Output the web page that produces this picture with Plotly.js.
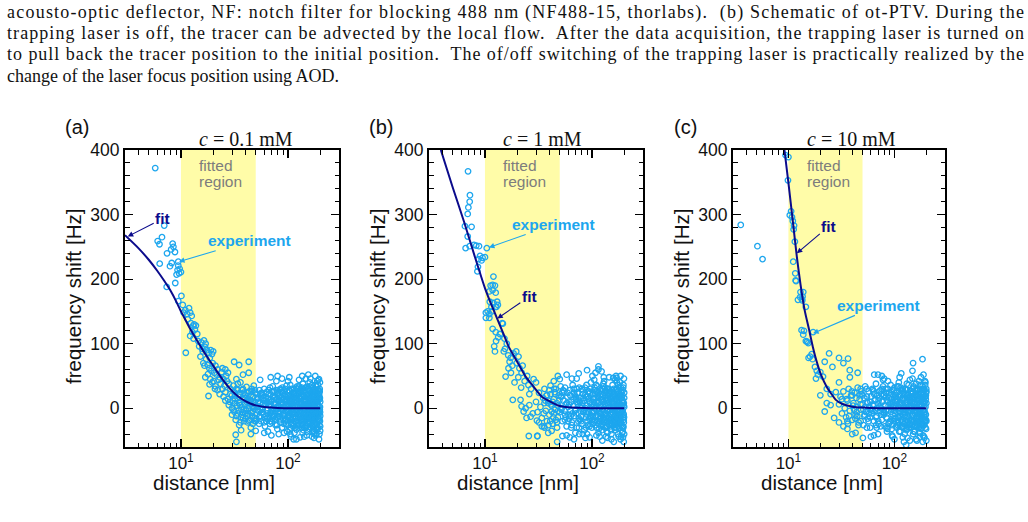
<!DOCTYPE html>
<html>
<head>
<meta charset="utf-8">
<script src="https://cdn.plot.ly/plotly-3.0.1.min.js"></script>
<style>
  html, body { margin: 0; padding: 0; background: #fff; }
  #chart { width: 1028px; height: 522px; }
</style>
</head>
<body>
<div id="chart"></div>
<script>
// ---- data -------------------------------------------------------------
// Tracer frequency shift [Hz] versus distance to the wall [nm], three salt concentrations.
const panelTitles = ['<i>c</i> = 0.1 mM', '<i>c</i> = 1 mM', '<i>c</i> = 10 mM'];
const panelLetters = ['(a)', '(b)', '(c)'];
const distRange = [3, 300];
const shiftRange = [-60, 400];
const fitWindow = [10, 50];
const distTickVals = [10, 100];
const distTickText = ['10<sup>1</sup>', '10<sup>2</sup>'];
const shiftTickVals = [0, 100, 200, 300, 400];

const captionLines = [
  'acousto-optic deflector, NF: notch filter for blocking 488 nm (NF488-15, thorlabs).  (b) Schematic of ot-PTV. During the',
  'trapping laser is off, the tracer can be advected by the local flow.  After the data acquisition, the trapping laser is turned on',
  'to pull back the tracer position to the initial position.  The of/off switching of the trapping laser is practically realized by the',
  'change of the laser focus position using AOD.'
];

// fitted curves (distance, shift)
const fitA_dist  = [3, 4, 5, 6, 7, 8, 9, 10, 11, 12, 14, 16, 18, 20, 23, 26, 30, 35, 40, 45, 50, 60, 70, 80, 100, 130, 160, 200];
const fitA_shift = [268, 248, 230, 213, 197, 182, 166, 150, 137, 125, 106, 90, 77, 66, 51, 39, 27, 17, 11, 7, 4.5, 2, 1, 0.5, 0, 0, 0, 0];
const fitB_dist  = [3.87, 5, 6.4, 8, 10, 11.5, 13, 15, 16.7, 20, 24, 28, 34, 40, 49, 65, 100, 200];
const fitB_shift = [400, 342, 288, 236, 186, 160, 139, 114, 95, 72, 49, 35, 18, 11, 4, 1, 0, 0];
const fitC_dist  = [9.17, 10, 11, 12, 13, 14.3, 15.5, 17, 18.5, 20.5, 23, 25, 28, 32, 40, 50, 70, 200];
const fitC_shift = [400, 349, 290, 235, 192, 150, 125, 95, 72, 50, 33, 24, 13, 7, 2.5, 1, 0, 0];

// measured points [distance nm, shift Hz]
const expA = [
  [5.75,372],[6.98,283],[6.65,265],[6.06,259],[6.3,254],[8.37,255],[8.5,250],[8.1,246],[7.41,240],[8.79,242],
  [6.33,224],[8.2,225],[7.9,220],[9.44,227],[9.44,221],[9.73,216],[9.3,214],[10,211],[9.1,207],[9.6,209],
  [8.85,194],[7.36,188],[10.1,174],[9.44,166],
  [10.4,160],[10.6,148],[11,152],[11.4,146],[11.9,155],[12.2,148],[12.6,143],[11.1,86],[11.6,138],[12.4,132],
  [13,128],[13.3,130],[13.8,128],[12.8,118],[13.5,122],[14.2,115],[14.5,104],[13.1,108],[12.2,112],[15.5,102],
  [16.4,105],[17,100],[16.8,95],[15.8,92],[17.5,90],[16,88],[14.8,96],[18.2,86],[19,90],[19.5,84],[20,88],
  [18.6,78],[17.2,76],[15.2,80],[16.2,70],[17.8,67],[19.8,70],[16.6,66],[18.4,62],[21,66],[22,60],[20.5,55],
  [19.2,58],[17.9,53],[16.9,48],[18.8,45],[21.6,52],[23,48],[24,56],[22.5,44],[19.6,40],[18.5,37],[21,34],
  [20.2,42],[23.5,38],[25,45],[26,60],[24.4,62],[26.5,50],[27.5,55],[25.5,35],[22,28],[18.1,19],[23,22],
  [24.5,30],[26,25],[27,42],[28,38],[29,30],[20.8,30],[25,18],[27.5,14],[28.5,10],[26,12],[30,20],[31.4,72],
  [35,67],[43,72],[43,55],[38,52],[33,45],[36,40],[31,35],[34,28],[29,22],[32,15],[35,8],[31.4,-5],[28,5],
  [30,0],[33,-12],[35,-26],[36.5,-34],[32.5,-41],[33,-52],[38,-15],[40,-8],[42,-22],[45,-30],[50,-35],
  [30.5,12],[31,-2],[31.5,25],[32,8],[32.5,-18],[33,30],[33.5,4],[34,-8],[34.5,18],[35,-3],[35.5,22],[36,10],
  [36.5,-14],[37,2],[37.5,28],[38,-6],[38.5,14],[39,-20],[39.5,6],[40,20],[40.5,-2],[41,33],[41.5,9],[42,-12],
  [42.5,15],[43,0],[43.5,26],[44,-18],[44.5,7],[45,12],[45.5,-7],[46,30],[46.5,3],[47,-24],[47.5,18],[48,-1],
  [48.5,10],[49,-15],[49.5,24],[50,5],[51,-10],[52,16],[53,-4],[54,28],[55,8],[56,-20],[57,1],[58,20],[59,-9],
  [60,12],[61,-28],[62,6],[63,25],[64,-3],[65,15],[66,-14],[67,4],[68,32],[69,-6],[70,10],[71,-22],[72,18],
  [73,0],[74,-12],[75,27],[76,7],[77,-4],[78,14],[79,-26],[80,3],[81,22],[82,-8],[83,11],[84,-17],[85,30],
  [86,-1],[87,16],[88,-30],[89,6],[90,24],[91,-10],[92,2],[93,19],[94,-20],[95,9],[96,-5],[97,35],[98,13],
  [99,-14],[100,4],[102,28],[104,-7],[106,17],[108,-24],[110,8],[112,-2],[114,22],[116,-16],[118,12],[120,-33],
  [122,5],[124,30],[126,-9],[128,15],[130,-3],[132,25],[134,-19],[136,7],[138,38],[140,-11],[142,18],[144,0],
  [146,-28],[148,10],[150,33],[152,-6],[154,21],[156,-15],[158,4],[160,27],[162,-22],[164,13],[166,-2],[168,36],
  [170,8],[172,-12],[174,19],[176,-36],[178,3],[180,26],[182,-8],[184,15],[186,-25],[188,42],[190,6],[192,-16],
  [194,22],[196,-4],[198,30],[199,-20],[200,10],
  [30,-10],[32,20],[34,38],[36,-22],[38,30],[40,-16],[42,24],[44,10],[46,-6],[48,35],[50,-20],[52,2],[54,-14],
  [56,18],[58,-2],[60,30],[62,-12],[64,8],[66,22],[68,-20],[70,-4],[72,34],[74,6],[76,-18],[78,0],[80,24],
  [82,12],[84,-6],[86,28],[88,8],[90,-16],[92,14],[94,30],[96,-24],[98,-2],[101,18],[103,-12],[105,36],[107,6],
  [109,-18],[111,24],[113,-6],[115,10],[117,-30],[119,20],[121,-4],[123,14],[125,-22],[127,34],[129,2],[131,-14],
  [133,10],[135,-30],[137,22],[139,-2],[141,28],[143,-20],[145,12],[147,-8],[149,20],[151,-36],[153,6],[155,30],
  [157,-12],[159,16],[161,-4],[163,24],[165,-18],[167,2],[169,-28],[171,32],[173,-6],[175,12],[177,20],[179,-14],
  [181,36],[183,0],[185,-20],[187,10],[189,-32],[191,28],[193,-10],[195,16],[197,-26],[199,40],[200,-12],
  [60,-38],[70,-42],[82,-40],[98,-36],[107,-44],[115,-38],[130,-45],[150,-42],[175,-46],[185,-40],[195,-48],
  [69,48],[80,50],[100,42],[147,46],[155,52],[180,50],[195,45],[200,-35],[103,48],[120,-48],
  [100,-20],[104,12],[108,30],[112,-28],[116,4],[120,16],[124,-10],[128,-26],[132,6],[136,-16],[140,26],[144,14],
  [148,-18],[152,30],[156,8],[160,-10],[164,-30],[168,18],[172,26],[176,-2],[180,-22],[184,34],[188,-8],[192,4],
  [196,24],[200,-28],[110,-10],[125,24],[140,-34],[160,40],[175,-30],[190,-2],[198,14],[170,-20],[155,-24],
  [135,32],[118,-20],[165,10],[185,24],[145,-2],
  [35.8,5],[37.2,-10],[38.6,24],[40.3,-4],[41.7,12],[43.2,-20],[44.8,20],[46.3,-12],[47.7,2],[49.2,28],[50.6,-16],
  [52.3,10],[53.8,-24],[55.5,22],[57.2,-6],[58.8,6],[60.5,-14],[62.3,18],[64.1,-8],[65.9,28],[67.8,-24],[69.6,14],
  [71.5,-2],[73.4,26],[75.5,-16],[77.5,8],[79.6,-32],[81.8,18],[83.9,-12],[86.2,6],[88.5,32],[90.8,-8],[93.2,20],
  [95.6,-18],[98.1,26],[100.7,-10],[103.3,6],[106,-30],[108.8,20],[111.6,-6],[114.5,30],[117.4,-12],[120.5,8],
  [123.6,-26],[126.8,22],[130.1,-8],[133.5,14],[137,-38],[140.5,4],[144.2,24],[147.9,-14],[151.7,18],[155.6,-20],
  [159.6,6],[163.7,-8],[168,22],[172.4,-16],[176.8,30],[181.4,-4],[186.1,12],[190.9,-30],[195.8,20],[199.5,-6],
  [36.8,-2],[39.4,16],[42.4,-8],[45.6,26],[48.9,-20],[51.5,14],[54.6,-12],[56.8,24],[59.6,-22],[61.7,16],[63.5,-16],
  [66.6,10],[68.7,-8],[70.6,26],[72.6,-14],[74.6,16],[76.5,-26],[78.7,28],[80.7,-6],[82.8,20],[85.1,-22],[87.3,10],
  [89.6,-2],[92,28],[94.4,-12],[96.8,14],[99.4,-26],[102,10],[104.7,26],[107.4,-18],[110.2,2],[113,-24],[116,16],
  [118.9,-4],[121.9,34],[125.1,-14],[128.4,0],[131.8,18],[135.2,-22],[138.7,12],[142.4,-14],[146,32],[149.8,-26],
  [153.7,2],[157.6,28],[161.6,-16],[165.8,4],[170.2,-36],[174.6,14],[179.1,-10],[183.7,28],[188.4,-18],[193.3,2],
  [197.8,26],
  [45,-40],[55,44],[65,-36],[78,42],[92,-38],[105,-40],[127,44],[142,-44],[162,46],[182,-42],[192,44],[88,46],
  [113,-48],[168,-44],[136,50],[197,-40],
  [102.5,-2],[107.2,12],[111.9,-16],[116.7,22],[121.2,-6],[126,8],[130.8,-18],[135.8,26],[140.9,-10],[145.9,6],
  [151,-12],[156.2,22],[161.4,-2],[166.8,-26],[172,10],[177.4,18],[182.8,-14],[188.1,6],[193.6,-20],[198.7,16],
  [104,-34],[119,32],[143,-30],[158,34],[176,-40],[191,36],
  [42.9,4],[46.9,-4],[51,22],[55.2,-2],[59.1,16],[63.2,-20],[67.2,6],[71,-10],[75,18],[79.2,-14],[83.4,2],[87.7,24],
  [91.5,-24],[95.2,4],[99.9,20],[104.3,-14],[108.3,-2],[112.5,16],[117,-8],[121.6,20],[125.7,-30],[129.4,26],
  [134.1,-6],[138.2,-26],[142.8,10],[147.3,-30],[152.4,-4],[157,12],[162.3,18],[167.4,-14],[171.3,-4],[175.8,4],
  [180.2,12],[184.8,-30],[189.6,20],[194.4,-8],[199.2,2],[101.6,14],[109.7,28],[114.9,-20],[120,-26],[124.4,4],
  [133.1,30],[139.6,-18],[150.2,-2],[159,-32],[164.9,20],[169.1,8],[178.2,-18],[186.9,-10],[191.6,12],[196.4,-16],
  [104.9,0],[130.5,10],[144.8,-8],[155,-12],[173,-24],[183,8],[193.8,28],[198.4,-2]
];

const expB = [
  [6.95,367],[7.24,330],[7.2,320],[7,311],[6.9,301],[6.5,282],[7.5,281],[6.9,266],[6.6,248],[7.2,251],[7.9,253],
  [8.3,252],[8.8,251],[10.4,248],[9,236],[9.5,233],[10,234],[8.7,231],[9.3,229],[8.6,219],[8.5,212],[12,204],
  [11.3,190],[12.4,190],[11.8,191],[11,181],[12.6,179],[11.8,183],[13,165],[13.2,160],[12.8,157],[10.6,150],
  [10.2,148],[11,146],[11.6,150],[10.2,140],[11,140],[11.5,157],[12.6,157],[11.1,165],[12,163],[14.7,131],
  [11.8,123],[12.6,118],[13.8,115],[12.4,88],[12.2,96],[12.7,104],[13.3,110],[14.5,132],[15.2,108],[16,100],
  [15.4,92],[15,88],[16.5,82],[17.4,78],[18.5,85],[19.6,88],[20.6,80],[17,72],[18,66],[19.8,70],[21,62],[22,55],
  [20.5,48],[22.5,66],[15.6,49],[18.9,40],[17.5,55],[16.6,62],[21.8,32],[23.5,42],[24.8,50],[25.5,36],[27,30],
  [28.5,45],[30,40],[26,22],[18.2,13],[21.5,13],[22,3],[24,0],[26,5],[23,-5],[24.5,-15],[26.7,-13],[28,-8],
  [30.6,-19],[34,-28],[35.5,-28],[30.8,-43],[25.7,-43],[31,-43],[36,-30],[39,-38],[42,-35],[38,20],[41,35],
  [44,42],[48,50],[45,25],[39,8],[42,-5],[46,-18],[47.3,-52],[50,45],[53,-43],[58,52],[62,-45],[65,46],[68,-48],
  [75.2,54],[90,59],[108,55],[115,65],[115,60],[123,57],[158,47],[170,47],[70,-38],[82,-40],[95,-45],[110,-42],
  [125,-50],[140,-38],[160,-52],[175,-40],[185,-48],[195,-45],
  [30,10],[31,-6],[32,24],[33,2],[34,-15],[35,16],[36,30],[37,-4],[38,-20],[39,12],[40,-10],[41,22],[42,4],
  [43,-24],[44,14],[45,-2],[46,30],[47,8],[48,-14],[49,20],[50,-6],[51,34],[52,0],[53,-20],[54,12],[55,26],
  [56,-10],[57,6],[58,-28],[59,18],[60,2],[61,-16],[62,28],[63,-4],[64,10],[65,-22],[66,36],[67,4],[68,-12],
  [69,20],[70,-2],[71,14],[72,-30],[73,24],[74,6],[75,-8],[76,32],[77,-18],[78,2],[79,16],[80,-24],[81,8],
  [82,28],[83,-6],[84,12],[85,-34],[86,20],[87,0],[88,-14],[89,36],[90,4],[91,-20],[92,14],[93,-6],[94,26],
  [95,-28],[96,8],[97,-12],[98,40],[99,2],[100,-18],[102,22],[104,-4],[106,32],[108,-26],[110,10],[112,-10],
  [114,18],[116,-32],[118,4],[120,28],[122,-14],[124,12],[126,-2],[128,38],[130,-22],[132,6],[134,20],[136,-8],
  [138,-36],[140,16],[142,30],[144,-16],[146,2],[148,26],[150,-28],[152,10],[154,-6],[156,36],[158,-20],[160,8],
  [162,22],[164,-12],[166,-34],[168,14],[170,4],[172,30],[174,-22],[176,-2],[178,18],[180,-30],[182,40],[184,6],
  [186,-14],[188,26],[190,-6],[192,-38],[194,12],[196,32],[198,-18],[200,2],
  [32,-22],[36,8],[40,28],[44,-8],[48,4],[52,18],[56,32],[60,-20],[64,-30],[68,24],[72,10],[76,-16],[80,30],
  [84,-2],[88,18],[92,-26],[96,24],[100,6],[104,-22],[108,16],[112,34],[116,-4],[120,-20],[124,26],[128,-10],
  [132,-30],[136,12],[140,-4],[144,24],[148,-10],[152,-40],[156,4],[160,30],[164,-2],[168,-22],[172,12],[176,36],
  [180,-12],[184,20],[188,-26],[192,8],[196,-8],[200,24],[105,44],[130,42],[145,48],[165,44],[185,50],[200,-40],
  [115,-38],[135,-44],[178,-44],[198,-52],[90,-40],
  [102,-8],[110,26],[118,-16],[126,20],[134,-18],[142,8],[150,14],[158,-8],[166,28],[174,2],[182,-18],[190,16],
  [198,4],[106,0],[122,-28],[138,30],[154,-24],[170,-10],[186,32],[196,-30],[114,8],[146,-22],[162,-24],[178,2],
  [194,-14],[200,16],[128,10],[176,-28],
  [35.4,-8],[37.6,20],[39.2,-26],[41.4,6],[43.6,-14],[45.3,22],[47.2,-30],[49.6,12],[51.8,-2],[53.7,28],[55.9,-18],
  [58.1,8],[60.4,-10],[62.6,20],[64.9,-26],[67.3,14],[69.7,-4],[72.1,30],[74.7,-20],[77.2,10],[79.8,-12],[82.5,22],
  [85.3,-2],[88.1,-30],[91,18],[93.9,-16],[96.9,30],[100,-6],[103.1,14],[106.4,-20],[109.6,36],[113,-14],[116.5,0],
  [120,22],[123.7,-34],[127.4,10],[131.2,-8],[135.1,26],[139,-20],[143.1,14],[147.2,-2],[151.4,-34],[155.7,22],
  [160.1,2],[164.6,-18],[169.2,30],[173.9,-10],[178.7,12],[183.5,-24],[188.5,24],[193.5,-4],[198.5,-22],
  [36.6,12],[40.8,-20],[44.3,30],[48.3,-4],[52.6,24],[57,-14],[61.2,6],[65.7,-8],[70.1,18],[75.6,-30],[80.5,4],
  [86,32],[90.2,-10],[95.1,10],[101.2,-24],[105.3,28],[111,-2],[115,-24],[121.5,14],[126.2,-18],[132.8,32],
  [137.5,-12],[141.6,4],[147.9,22],[153,-16],[158.6,18],[163.2,-6],[168.8,-26],[174.5,26],[180.8,6],[186.2,-8],
  [191.7,-28],[196.8,36],
  [58,-42],[72,46],[87,-46],[101,50],[118,-44],[129,48],[152,-48],[168,50],[187,-44],[199,46],[76,-40],[140,-46],
  [103.8,4],[108.6,-12],[113.5,20],[118.3,-8],[123.2,2],[128.1,-28],[133,16],[138,-4],[143.9,30],[149.1,-8],
  [154.5,8],[159.8,-22],[165.3,14],[170.8,-2],[176.4,22],[182,-14],[187.7,2],[193,20],[198,-10],[110,-30],
  [127,34],[149,-32],[171,40],[194,-36],
  [43,10],[47,-22],[51.2,18],[55.4,-4],[59.2,24],[63.3,-12],[67.5,30],[71.2,-8],[75.2,12],[79.3,-20],[83.5,16],
  [87.8,-6],[91.6,26],[95.4,-14],[99.8,-30],[104.4,10],[108.2,22],[112.6,-20],[117.2,10],[121.8,-8],[125.6,30],
  [129.5,-16],[134.2,4],[138.3,-28],[142.9,20],[147.4,-18],[152.5,24],[157.1,-2],[162.4,-30],[167.5,20],[171.4,-14],
  [175.9,8],[180.3,-24],[184.9,16],[189.7,-2],[194.5,28],[199.3,-14],[101.7,-12],[109.8,4],[115,24],[120.1,2],
  [124.5,-24],[133.2,-10],[139.7,20],[150.3,-20],[159.1,12],[165,-10],[169.2,-30],[178.3,32],[187,-22],[191.7,4],
  [196.5,-28],[105,16],[130.6,24],[144.9,-24],[155.1,14],[173.1,18],[183.1,-4],[193.9,10],[198.5,8]
];

const expC = [
  [3.55,284],[5.1,251],[5.7,231],[9.4,392],[10,389],[9.9,353],[10.3,299],[10.6,305],[10.8,296],[11,290],
  [11.3,283],[11.2,277],[11.5,258],[11.1,227],[11.6,209],[11.7,198],[11.8,197],[13,180],[13.8,180],[13.6,173],
  [12.9,172],[13.5,167],[14.6,157],[12.3,168],[13.4,169],[13.3,121],[14,120],[13.8,114],[14.6,104],[15.4,101],
  [15,103],[17.1,118],[16,80],[16.9,76],[15.5,78],[17.8,64],[18.5,58],[19,52],[20,56],[21.2,49],[18.2,46],
  [16.6,84],[24.2,85],[22,72],[26,64],[30,78],[33,70],[36.5,77],[37.9,59],[30,40],[23,30],[25,22],[28,25],
  [20,20],[23,8],[25,5],[22,-5],[27,-15],[30,-22],[33,-28],[36,-32],[40,-40],[43,-38],[50.4,-46],[38,48],
  [45,55],[64.5,52],[70,52],[76,50],[80,46],[116,54],[148,58],[150,70],[184,76],[129,-57],[120,-45],[140,-50],
  [160,-48],[175,-38],[185,-52],[70,-40],[85,-36],[95,-42],[100,-48],[60,-44],[55,-30],[48,-20],
  [30,6],[31,18],[32,-8],[33,26],[34,0],[35,-14],[36,12],[37,30],[38,-4],[39,20],[40,-18],[41,8],[42,24],
  [43,-10],[44,2],[45,32],[46,-22],[47,14],[48,-2],[49,22],[50,6],[51,-26],[52,16],[53,34],[54,-6],[55,10],
  [56,-16],[57,26],[58,2],[59,-30],[60,18],[61,-8],[62,30],[63,4],[64,-20],[65,12],[66,-2],[67,38],[68,-12],
  [69,20],[70,6],[71,-24],[72,16],[73,-4],[74,28],[75,0],[76,-18],[77,10],[78,34],[79,-10],[80,20],[81,-28],
  [82,4],[83,24],[84,-14],[85,12],[86,-32],[87,30],[88,-2],[89,16],[90,-22],[91,8],[92,36],[93,-6],[94,14],
  [95,-26],[96,22],[97,2],[98,-16],[99,28],[100,-4],[102,12],[104,-28],[106,34],[108,0],[110,-14],[112,22],
  [114,-36],[116,8],[118,26],[120,-10],[122,14],[124,-24],[126,30],[128,-2],[130,18],[132,-32],[134,6],[136,36],
  [138,-16],[140,10],[142,-4],[144,26],[146,-26],[148,14],[150,-10],[152,32],[154,2],[156,-36],[158,20],[160,-6],
  [162,12],[164,-20],[166,28],[168,-2],[170,-30],[172,16],[174,36],[176,-12],[178,4],[180,24],[182,-24],[184,10],
  [186,-42],[188,30],[190,-6],[192,18],[194,-20],[196,40],[198,-10],[200,8],
  [32,14],[36,-20],[40,20],[44,-6],[48,30],[52,-12],[56,8],[60,-2],[64,26],[68,-30],[72,2],[76,30],[80,-8],
  [84,18],[88,-24],[92,6],[96,-10],[100,32],[104,14],[108,-22],[112,-4],[116,-18],[120,30],[124,2],[128,-30],
  [132,20],[136,-6],[140,-24],[144,4],[148,30],[152,-20],[156,10],[160,38],[164,2],[168,-16],[172,-38],[176,22],
  [180,-16],[184,34],[188,-20],[192,0],[196,-30],[200,26],[110,40],[140,44],[170,42],[195,36],[125,-40],[150,-40],
  [190,-44],[200,-50],
  [102,-16],[114,20],[126,-10],[138,16],[150,24],[162,-12],[174,6],[186,-4],[198,20],[106,10],[118,-28],[130,4],
  [142,-30],[154,16],[166,-22],[178,-32],[190,28],[200,-20],[134,-20],[158,-28],[182,14],[194,10],[146,0],[170,20],
  [35.3,14],[37.4,-12],[39.6,26],[41.6,-2],[43.8,16],[45.8,-26],[47.9,6],[50.2,20],[52.5,-10],[54.7,30],[57.1,-20],
  [59.4,10],[61.7,-4],[64.3,22],[66.8,-14],[69.2,0],[71.8,26],[74.3,-28],[77,12],[79.6,-6],[82.4,30],[85.3,-16],
  [88.2,4],[91.2,20],[94.3,-32],[97.5,10],[100.8,-8],[104.1,24],[107.6,-14],[111.1,6],[114.8,32],[118.5,-22],
  [122.3,0],[126.2,16],[130.2,-34],[134.3,20],[138.5,-4],[142.8,12],[147.2,-18],[151.7,34],[156.3,-8],[161,20],
  [165.8,-24],[170.6,4],[175.6,28],[180.7,-12],[185.9,16],[191.1,-26],[196.3,2],[199.6,30],
  [36.4,-24],[40.7,4],[44.6,-12],[48.6,26],[53.2,2],[57.8,-8],[62.5,28],[66.2,14],[70.4,-20],[75.1,22],[79.1,-2],
  [84.6,-30],[89.3,24],[93.1,2],[98.6,-20],[103,20],[108.9,34],[113.6,-12],[119.2,14],[124.7,-6],[129.6,28],
  [135.6,-26],[141.2,18],[146.4,-10],[153.2,8],[159,-16],[164.4,30],[169.9,-8],[176.8,-24],[182.4,4],[187.8,22],
  [193.4,-14],[198.8,-32],
  [64,-42],[78,44],[96,-44],[112,48],[133,-46],[148,46],[163,-50],[178,48],[192,-46],[87,42],[123,-52],[188,52],
  [102.6,0],[107.4,-26],[112.2,10],[117.1,-6],[122,24],[127,-14],[132,8],[137.1,-30],[142.3,26],[147.6,-2],
  [152.9,14],[158.3,-20],[163.8,6],[169.4,-12],[175,18],[180.6,-30],[186.3,8],[192,-10],[197.5,14],[111,-36],
  [131,38],[152,-36],[173,-44],[194,42],
  [42.8,-16],[46.8,20],[50.9,-2],[55.1,18],[59,-14],[63.1,6],[67.1,-26],[70.9,12],[74.9,-10],[79,20],[83.2,-4],
  [87.6,10],[91.4,-20],[95.1,28],[99.7,4],[104.2,-20],[108.1,18],[112.4,-26],[116.9,28],[121.5,-2],[125.5,-20],
  [129.3,10],[134,22],[138.1,-10],[142.7,-20],[147.1,24],[152.3,-4],[156.9,28],[162.2,-26],[167.3,14],[171.2,-6],
  [175.7,-18],[180.1,12],[184.7,-28],[189.5,8],[194.3,-22],[199.1,24],[101.5,18],[109.6,-8],[114.8,4],[119.9,-30],
  [124.3,20],[133,-12],[139.5,4],[150.1,18],[158.9,-4],[164.8,-28],[169,24],[178.1,-8],[186.8,28],[191.5,-16],
  [196.2,18],[104.8,-30],[130.4,-22],[144.7,14],[154.9,-26],[172.9,-2],[182.9,30],[193.7,-6],[198.3,-18]
];

const expSets = [expA, expB, expC];
const fitDists = [fitA_dist, fitB_dist, fitC_dist];
const fitShifts = [fitA_shift, fitB_shift, fitC_shift];

// ---- layout geometry (pixels of the 1028 x 522 page) -------------------
const W = 1028, H = 522;
const boxes = [[125, 339], [429, 643], [733, 945]];
const boxTop = 150, boxBottom = 447;
const fx = p => p / W;
const fy = p => 1 - p / H;

const EXP_COLOR = '#1DA6EE';
const FIT_COLOR = '#0B0B8C';
const SANS = 'Liberation Sans, Arial, sans-serif';
const SERIF = 'Liberation Serif, Times New Roman, serif';

const traces = [];
const shapes = [];
const annotations = [];

captionLines.forEach((line, i) => {
  annotations.push({
    xref: 'paper', yref: 'paper', x: fx(5), y: fy(12.5 + 21 * i),
    xanchor: 'left', yanchor: 'middle', align: 'left', showarrow: false,
    text: line, font: { family: SERIF, size: 18, color: '#111' }
  });
});

const layout = {
  width: W, height: H, autosize: false,
  margin: { l: 0, r: 0, t: 0, b: 0, pad: 0 },
  paper_bgcolor: '#fff', plot_bgcolor: 'rgba(0,0,0,0)',
  showlegend: false, hovermode: false,
  shapes, annotations
};

boxes.forEach(([left, right], i) => {
  const s = i === 0 ? '' : String(i + 1);
  const xa = 'x' + s, ya = 'y' + s;

  layout['xaxis' + s] = {
    type: 'log', range: distRange.map(Math.log10),
    domain: [fx(left), fx(right)], anchor: ya,
    showline: true, linewidth: 2, linecolor: '#000', mirror: 'ticks',
    ticks: 'inside', ticklen: 8, tickwidth: 1.2, tickcolor: '#000',
    tickvals: distTickVals, ticktext: distTickText,
    minor: { ticks: 'inside', ticklen: 4.5, tickwidth: 1, tickcolor: '#000', dtick: 'D1', showgrid: false },
    showgrid: false, zeroline: false,
    tickfont: { family: SANS, size: 17, color: '#111' }
  };
  layout['yaxis' + s] = {
    range: shiftRange, domain: [fy(boxBottom), fy(boxTop)], anchor: xa,
    showline: true, linewidth: 2, linecolor: '#000', mirror: 'ticks',
    ticks: 'inside', ticklen: 8, tickwidth: 1.2, tickcolor: '#000',
    tickvals: shiftTickVals,
    minor: { ticks: 'inside', ticklen: 4.5, tickwidth: 1, tickcolor: '#000', dtick: 20, tick0: 0, showgrid: false },
    showgrid: false, zeroline: false,
    tickfont: { family: SANS, size: 17.5, color: '#111' }
  };

  // fitted region band
  shapes.push({
    type: 'rect', xref: xa, yref: ya + ' domain', x0: fitWindow[0], x1: fitWindow[1], y0: 0, y1: 1,
    fillcolor: '#FFFCA8', line: { width: 0 }, layer: 'below'
  });

  traces.push({
    type: 'scatter', mode: 'markers', xaxis: xa, yaxis: ya,
    x: expSets[i].map(p => p[0]), y: expSets[i].map(p => p[1]),
    marker: { symbol: 'circle-open', size: 5.5, color: EXP_COLOR, line: { width: 1.3, color: EXP_COLOR } }
  });
  traces.push({
    type: 'scatter', mode: 'lines', xaxis: xa, yaxis: ya,
    x: fitDists[i], y: fitShifts[i],
    line: { color: FIT_COLOR, width: 2, shape: 'spline', smoothing: 0.6 }
  });

  // panel texts
  annotations.push({ xref: 'paper', yref: 'paper', x: fx(left - 48), y: fy(127), xanchor: 'center', yanchor: 'middle',
    showarrow: false, text: panelLetters[i], font: { family: SANS, size: 20, color: '#111' } });
  annotations.push({ xref: 'paper', yref: 'paper', x: fx(left + 71.5), y: fy(139), xanchor: 'left', yanchor: 'middle',
    showarrow: false, text: panelTitles[i], font: { family: SERIF, size: 20, color: '#111' } });
  annotations.push({ xref: 'paper', yref: 'paper', x: fx(left + 72), y: fy(165), xanchor: 'left', yanchor: 'middle',
    showarrow: false, text: 'fitted', font: { family: SANS, size: 15.5, color: '#7d7d7d' } });
  annotations.push({ xref: 'paper', yref: 'paper', x: fx(left + 72), y: fy(181), xanchor: 'left', yanchor: 'middle',
    showarrow: false, text: 'region', font: { family: SANS, size: 15.5, color: '#7d7d7d' } });
  annotations.push({ xref: 'paper', yref: 'paper', x: fx(left + 89), y: fy(482.5), xanchor: 'center', yanchor: 'middle',
    showarrow: false, text: 'distance [nm]', font: { family: SANS, size: 20.5, color: '#111' } });
  annotations.push({ xref: 'paper', yref: 'paper', x: fx(left - 52), y: fy(297), xanchor: 'center', yanchor: 'middle',
    textangle: -90, showarrow: false, text: 'frequency shift [Hz]', font: { family: SANS, size: 20.5, color: '#111' } });
});

// callouts: arrow tip given in data units, text offset in pixels
function callout(panel, dist, shift, dx, dy, label, color) {
  const s = panel === 0 ? '' : String(panel + 1);
  annotations.push({
    xref: 'x' + s, yref: 'y' + s, x: Math.log10(dist), y: shift, ax: dx, ay: dy,
    text: '<b>' + label + '</b>', showarrow: true, arrowhead: 2, arrowsize: 1, arrowwidth: 1.1,
    arrowcolor: color, standoff: 0, font: { family: SANS, size: 15.5, color: color }
  });
}
callout(0, 3.18, 266, 35, -18, 'fit', FIT_COLOR);
callout(0, 9.6, 227, 70, -21, 'experiment', EXP_COLOR);
callout(1, 10.9, 249, 65, -23, 'experiment', EXP_COLOR);
callout(1, 13.05, 139, 32, -22, 'fit', FIT_COLOR);
callout(2, 12.0, 240, 32, -27, 'fit', FIT_COLOR);
callout(2, 17.1, 116, 65, -28, 'experiment', EXP_COLOR);

Plotly.newPlot('chart', traces, layout, { staticPlot: true, displayModeBar: false }).then(gd => {
  // justify the full caption lines to the text block width
  const fullWidth = 1017;
  gd.querySelectorAll('g.annotation').forEach(g => {
    const idx = Number(g.getAttribute('data-index'));
    if (idx < captionLines.length - 1) {
      const t = g.querySelector('text');
      if (t) { t.setAttribute('textLength', fullWidth); t.setAttribute('lengthAdjust', 'spacing'); }
    }
  });
});
</script>
</body>
</html>
